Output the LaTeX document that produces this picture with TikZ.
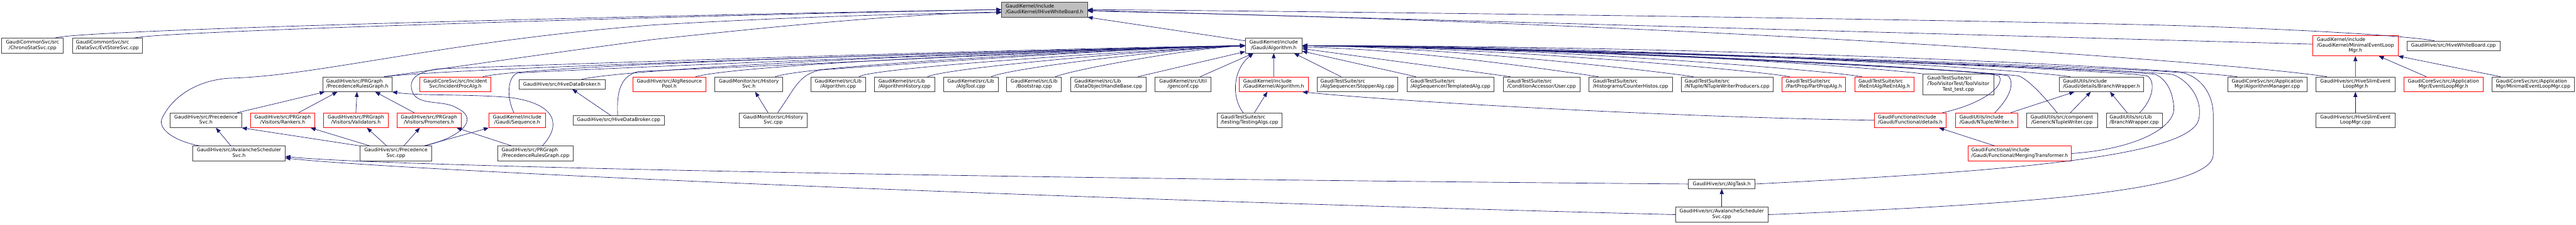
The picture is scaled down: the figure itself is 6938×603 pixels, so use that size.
\documentclass[tikz,border=0pt]{standalone}
\usepackage{fontspec}
\setmainfont{DejaVu Sans}
\usetikzlibrary{arrows.meta,calc}
\definecolor{edgeblue}{HTML}{191970}
\definecolor{boxline}{HTML}{404040}
\definecolor{focusfill}{HTML}{BFBFBF}
\newcommand{\twoln}[2]{\begin{tabular}{@{}l@{}}#1\\\multicolumn{1}{@{}c@{}}{#2}\end{tabular}}
\newcommand{\threeln}[3]{\begin{tabular}{@{}l@{}}#1\\#2\\\multicolumn{1}{@{}c@{}}{#3}\end{tabular}}

\begin{document}
\begin{tikzpicture}[x=0.4pt,y=-0.4pt,
    every node/.style={font=\fontsize{5.2}{5.84}\selectfont},
    filebox/.style={draw=boxline, fill=white, line width=0.5pt, inner sep=0pt, minimum height=15.84pt},
    truncbox/.style={filebox, draw=red},
    focusbox/.style={filebox, fill=focusfill},
    wd/.style={minimum width=#1*0.4pt},
    oneln/.style={minimum height=10.16pt},
    tall/.style={minimum height=22pt},
    incl/.style={draw=edgeblue, line width=0.45pt, -{Triangle[length=5.4pt,width=4.2pt]}}]
    \useasboundingbox[fill=white] (0,0) rectangle (6938,603);

    \node[focusbox, wd=231] (IHWB) at (2813.2,25.8) {\twoln{GaudiKernel/include}{/GaudiKernel/IHiveWhiteBoard.h}};

    \node[filebox, wd=166] (ChronoStat) at (87.7,122.7) {\twoln{GaudiCommonSvc/src}{/ChronoStatSvc.cpp}};
    \node[filebox, wd=189] (EvtStore) at (289.3,122.7) {\twoln{GaudiCommonSvc/src}{/DataSvc/EvtStoreSvc.cpp}};
    \node[filebox, wd=152.5] (GAlgH) at (3430.5,122.7) {\twoln{GaudiKernel/include}{/Gaudi/Algorithm.h}};
    \node[truncbox, tall, wd=229.6] (MinELMH) at (6343.8,122.7) {\threeln{GaudiKernel/include}{/GaudiKernel/MinimalEventLoop}{Mgr.h}};
    \node[filebox, oneln, wd=251] (HWBCpp) at (6608,122.7) {GaudiHive/src/HiveWhiteBoard.cpp};

    \node[filebox, wd=186.4] (PRGraphH) at (962.5,226.5) {\twoln{GaudiHive/src/PRGraph}{/PrecedenceRulesGraph.h}};
    \node[truncbox, wd=192.3] (IncProcAlg) at (1226.5,226.5) {\twoln{GaudiCoreSvc/src/Incident}{Svc/IncidentProcAlg.h}};
    \node[filebox, oneln, wd=232] (HDBH) at (1513.3,226.5) {GaudiHive/src/HiveDataBroker.h};
    \node[truncbox, wd=197.7] (AlgResPool) at (1802.7,226.5) {\twoln{GaudiHive/src/AlgResource}{Pool.h}};
    \node[filebox, wd=183] (HistSvcH) at (2017,226.5) {\twoln{GaudiMonitor/src/History}{Svc.h}};
    \node[filebox, wd=147] (AlgCpp) at (2257.4,226.5) {\twoln{GaudiKernel/src/Lib}{/Algorithm.cpp}};
    \node[filebox, wd=163] (AlgHistCpp) at (2436,226.5) {\twoln{GaudiKernel/src/Lib}{/AlgorithmHistory.cpp}};
    \node[filebox, wd=147] (AlgToolCpp) at (2614.7,226.5) {\twoln{GaudiKernel/src/Lib}{/AlgTool.cpp}};
    \node[filebox, wd=147.3] (BootCpp) at (2785.2,226.5) {\twoln{GaudiKernel/src/Lib}{/Bootstrap.cpp}};
    \node[filebox, wd=204] (DOHBCpp) at (2985,226.5) {\twoln{GaudiKernel/src/Lib}{/DataObjectHandleBase.cpp}};
    \node[filebox, wd=150.8] (GenconfCpp) at (3186.6,226.5) {\twoln{GaudiKernel/src/Util}{/genconf.cpp}};
    \node[truncbox, wd=185.8] (GKAlgH) at (3430.3,226.5) {\twoln{GaudiKernel/include}{/GaudiKernel/Algorithm.h}};
    \node[filebox, wd=217.7] (StopperCpp) at (3655.9,226.5) {\twoln{GaudiTestSuite/src}{/AlgSequencer/StopperAlg.cpp}};
    \node[filebox, wd=234.6] (TemplCpp) at (3906.5,226.5) {\twoln{GaudiTestSuite/src}{/AlgSequencer/TemplatedAlg.cpp}};
    \node[filebox, wd=207] (UserCpp) at (4151.8,226.5) {\twoln{GaudiTestSuite/src}{/ConditionAccessor/User.cpp}};
    \node[filebox, wd=224.6] (CntHistCpp) at (4391.6,226.5) {\twoln{GaudiTestSuite/src}{/Histograms/CounterHistos.cpp}};
    \node[filebox, wd=248.3] (NTWPCpp) at (4651.8,226.5) {\twoln{GaudiTestSuite/src}{/NTuple/NTupleWriterProducers.cpp}};
    \node[truncbox, wd=171] (PartPropH) at (4885.1,226.5) {\twoln{GaudiTestSuite/src}{/PartProp/PartPropAlg.h}};
    \node[truncbox, wd=159] (ReEntH) at (5074.6,226.5) {\twoln{GaudiTestSuite/src}{/ReEntAlg/ReEntAlg.h}};
    \node[filebox, tall, wd=192] (ToolVisCpp) at (5274.5,226.5) {\threeln{GaudiTestSuite/src}{/ToolVisitorTest/ToolVisitor}{Test\_test.cpp}};
    \node[filebox, wd=227] (BWH) at (5659.9,226.5) {\twoln{GaudiUtils/include}{/Gaudi/details/BranchWrapper.h}};
    \node[filebox, wd=213.5] (AlgMgrCpp) at (6106.6,226.5) {\twoln{GaudiCoreSvc/src/Application}{Mgr/AlgorithmManager.cpp}};
    \node[filebox, wd=213.8] (HSlimH) at (6343.9,226.5) {\twoln{GaudiHive/src/HiveSlimEvent}{LoopMgr.h}};
    \node[truncbox, wd=213.5] (ELMH) at (6581,226.5) {\twoln{GaudiCoreSvc/src/Application}{Mgr/EventLoopMgr.h}};
    \node[filebox, wd=220.3] (MinELMCpp) at (6822.5,226.5) {\twoln{GaudiCoreSvc/src/Application}{Mgr/MinimalEventLoopMgr.cpp}};

    \node[filebox, wd=192.3] (PrecSvcH) at (554.6,323.2) {\twoln{GaudiHive/src/Precedence}{Svc.h}};
    \node[truncbox, wd=173.4] (RankersH) at (761.2,323.2) {\twoln{GaudiHive/src/PRGraph}{/Visitors/Rankers.h}};
    \node[truncbox, wd=173.8] (ValidH) at (958.5,323.2) {\twoln{GaudiHive/src/PRGraph}{/Visitors/Validators.h}};
    \node[truncbox, wd=173.3] (PromotH) at (1155.6,323.2) {\twoln{GaudiHive/src/PRGraph}{/Visitors/Promoters.h}};
    \node[truncbox, wd=152.3] (SeqH) at (1393,323.2) {\twoln{GaudiKernel/include}{/Gaudi/Sequence.h}};
    \node[filebox, oneln, wd=246.7] (HDBCpp) at (1666.5,323.2) {GaudiHive/src/HiveDataBroker.cpp};
    \node[filebox, wd=183] (HistSvcCpp) at (2082.5,323.2) {\twoln{GaudiMonitor/src/History}{Svc.cpp}};
    \node[filebox, wd=176] (TestAlgsCpp) at (3365.4,323.2) {\twoln{GaudiTestSuite/src}{/testing/TestingAlgs.cpp}};
    \node[truncbox, wd=194] (DetailsH) at (5145,323.2) {\twoln{GaudiFunctional/include}{/Gaudi/Functional/details.h}};
    \node[truncbox, wd=166.8] (WriterH) at (5350.5,323.2) {\twoln{GaudiUtils/include}{/Gaudi/NTuple/Writer.h}};
    \node[filebox, wd=191] (GNTWCpp) at (5553.2,323.2) {\twoln{GaudiUtils/src/component}{/GenericNTupleWriter.cpp}};
    \node[filebox, wd=150.6] (BWCpp) at (5748,323.2) {\twoln{GaudiUtils/src/Lib}{/BranchWrapper.cpp}};
    \node[filebox, wd=213.8] (HSlimCpp) at (6343.9,323.2) {\twoln{GaudiHive/src/HiveSlimEvent}{LoopMgr.cpp}};

    \node[filebox, wd=248.2] (AvalH) at (643.8,412.5) {\twoln{GaudiHive/src/AvalancheScheduler}{Svc.h}};
    \node[filebox, wd=192.2] (PrecSvcCpp) at (1066.4,412.5) {\twoln{GaudiHive/src/Precedence}{Svc.cpp}};
    \node[filebox, wd=202.8] (PRGraphCpp) at (1442.4,412.5) {\twoln{GaudiHive/src/PRGraph}{/PrecedenceRulesGraph.cpp}};
    \node[truncbox, wd=278.6] (MergTH) at (5439.7,412.5) {\twoln{GaudiFunctional/include}{/Gaudi/Functional/MergingTransformer.h}};

    \node[filebox, oneln, wd=179.4] (AlgTaskH) at (4637.2,494.5) {GaudiHive/src/AlgTask.h};
    \node[filebox, wd=248.2] (AvalCpp) at (4637.2,576.8) {\twoln{GaudiHive/src/AvalancheScheduler}{Svc.cpp}};

    % IHiveWhiteBoard.h
    \draw[incl] ($(ChronoStat.north)+(60,0)$) .. controls +(60,-25) and +(-600,8) .. (IHWB.west);
    \draw[incl] ($(EvtStore.north)+(72,0)$) .. controls +(60,-20) and +(-600,10) .. (IHWB.west);
    \draw[incl] ($(AvalH.north west)+(20,0)$) .. controls (470,380) and (420,345) .. (438,315) .. controls (465,260) and (530,215) .. (620,210) .. controls (850,205) and (1200,110) .. (1760,67) .. controls (2200,42) and (2500,36) .. ($(IHWB.west)+(0,8)$);
    \draw[incl] ($(PRGraphH.north)+(72,0)$) .. controls (1300,170) and (1500,140) .. (1760,106) .. controls (2100,70) and (2400,40) .. ($(IHWB.west)+(0,6)$);
    \draw[incl] ($(GAlgH.west)+(0,-13)$) -- (IHWB.south east);
    \draw[incl] ($(HWBCpp.north)+(-52,0)$) .. controls (6450,92) and (6100,75) .. (5800,67) .. controls (5000,48) and (3500,30) .. (IHWB.east);
    \draw[incl] ($(MinELMH.west)+(0,-4)$) -- ($(IHWB.east)+(0,2)$);
    \draw[incl] ($(HSlimH.north)+(-77,0)$) .. controls (6000,165) and (4500,60) .. ($(IHWB.east)+(0,4)$);

    % Gaudi/Algorithm.h, left side
    \draw[incl] ($(PRGraphH.north)+(72,0)$) .. controls (1250,180) and (2800,135) .. (GAlgH.west);
    \draw[incl] ($(PrecSvcCpp.north east)+(-21,0)$) .. controls (1240,370) and (1295,320) .. (1230,290) .. controls (1195,268) and (1130,285) .. (1112,250) .. controls (1100,220) and (1110,195) .. (1180,185) .. controls (1700,165) and (2900,128) .. (GAlgH.west);
    \draw[incl] ($(IncProcAlg.north)+(74,0)$) .. controls +(100,-25) and +(-1100,25) .. (GAlgH.west);
    \draw[incl] ($(SeqH.north)+(-9,0)$) .. controls (1365,265) and (1365,205) .. (1395,196) .. controls (1800,175) and (2900,132) .. (GAlgH.west);
    \draw[incl] ($(HDBH.north)+(53,0)$) .. controls +(100,-25) and +(-900,22) .. (GAlgH.west);
    \draw[incl] ($(HDBCpp.north)+(-3,0)$) .. controls (1662,265) and (1662,205) .. (1720,192) .. controls (2200,172) and (3000,130) .. (GAlgH.west);
    \draw[incl] ($(AlgResPool.north)+(71,0)$) .. controls +(100,-28) and +(-700,20) .. (GAlgH.west);
    \draw[incl] ($(HistSvcH.north)+(71,0)$) .. controls +(80,-28) and +(-500,16) .. (GAlgH.west);
    \draw[incl] ($(HistSvcCpp.north)+(12,0)$) .. controls (2140,240) and (2150,200) .. (2210,188) .. controls (2600,160) and (3100,128) .. (GAlgH.west);
    \draw[incl] ($(AlgCpp.north)+(56,0)$) .. controls +(40,-25) and +(-300,14) .. (GAlgH.west);
    \draw[incl] ($(AlgHistCpp.north)+(62,0)$) .. controls +(60,-25) and +(-250,12) .. (GAlgH.west);
    \draw[incl] ($(AlgToolCpp.north)+(55,0)$) .. controls +(60,-25) and +(-200,10) .. (GAlgH.west);
    \draw[incl] ($(BootCpp.north)+(57,0)$) .. controls +(60,-22) and +(-150,8) .. (GAlgH.west);
    \draw[incl] ($(DOHBCpp.north)+(80,0)$) -- ($(GAlgH.west)+(0,16)$);
    \draw[incl] ($(GenconfCpp.north)+(46,0)$) -- ($(GAlgH.south west)+(22,0)$);
    \draw[incl] (GKAlgH) -- (GAlgH);
    \draw[incl] ($(TestAlgsCpp.north)+(-17,0)$) .. controls (3318,265) and (3318,190) .. ($(GAlgH.south west)+(22,0)$);
    \draw[incl] ($(TestAlgsCpp.north)+(13,0)$) -- ($(GKAlgH.south)+(-17,0)$);

    % Gaudi/Algorithm.h, right side
    \draw[incl] ($(StopperCpp.north)+(-44,0)$) -- ($(GAlgH.south east)+(-22,0)$);
    \draw[incl] ($(TemplCpp.north)+(-93,0)$) -- ($(GAlgH.east)+(0,15)$);
    \draw[incl] ($(UserCpp.north)+(-84,0)$) -- ($(GAlgH.east)+(0,8)$);
    \draw[incl] ($(CntHistCpp.north)+(-87,0)$) .. controls +(-80,-12) and +(300,5) .. ($(GAlgH.east)+(0,4)$);
    \draw[incl] ($(NTWPCpp.north)+(-91,0)$) .. controls +(-100,-15) and +(400,4) .. (GAlgH.east);
    \draw[incl] ($(PartPropH.north)+(-65,0)$) .. controls +(-100,-18) and +(500,3) .. (GAlgH.east);
    \draw[incl] ($(ReEntH.north)+(-60,0)$) .. controls +(-120,-20) and +(600,2) .. (GAlgH.east);
    \draw[incl] (ToolVisCpp.north west) .. controls +(-150,-20) and +(700,0) .. (GAlgH.east);
    \draw[incl] ($(BWH.north)+(-84,0)$) .. controls +(-150,-22) and +(900,0) .. (GAlgH.east);
    \draw[incl] ($(AlgMgrCpp.north)+(-81,0)$) .. controls +(-150,-20) and +(1200,0) .. (GAlgH.east);
    \draw[incl] ($(DetailsH.north east)+(-11,0)$) .. controls (5330,282) and (5400,235) .. (5385,205) .. controls (5380,188) and (4300,130) .. (GAlgH.east);
    \draw[incl] ($(WriterH.north)+(22,0)$) .. controls (5415,260) and (5425,225) .. (5410,205) .. controls (5400,190) and (4300,132) .. (GAlgH.east);
    \draw[incl] ($(GNTWCpp.north)+(-13,0)$) .. controls (5510,265) and (5470,220) .. (5440,205) .. controls (5420,195) and (4300,132) .. (GAlgH.east);
    \draw[incl] ($(BWCpp.north)+(15,0)$) .. controls (5800,265) and (5805,220) .. (5785,205) .. controls (5770,192) and (4500,135) .. (GAlgH.east);
    \draw[incl] (MergTH.east) .. controls (5760,400) and (5858,340) .. (5855,290) .. controls (5852,240) and (5830,210) .. (5805,200) .. controls (5780,192) and (4500,135) .. (GAlgH.east);
    \draw[incl] (AlgTaskH.east) .. controls (5300,465) and (5900,430) .. (5922,320) .. controls (5935,255) and (5880,208) .. (5850,200) .. controls (5800,190) and (4500,135) .. (GAlgH.east);
    \draw[incl] (AvalCpp.east) .. controls (5500,548) and (5961,510) .. (5961,415) -- (5961,310) .. controls (5961,245) and (5920,205) .. (5880,196) .. controls (5820,186) and (4500,135) .. (GAlgH.east);

    % event loop managers
    \draw[incl] (HSlimH) -- (MinELMH);
    \draw[incl] (HSlimCpp) -- (HSlimH);
    \draw[incl] ($(ELMH.north)+(-46,0)$) -- ($(MinELMH.south)+(63,0)$);
    \draw[incl] ($(MinELMCpp.north)+(-88,0)$) -- (MinELMH.south east);

    % ntuple and functional headers
    \draw[incl] ($(WriterH.north)+(65,0)$) -- ($(BWH.south)+(-73,0)$);
    \draw[incl] ($(GNTWCpp.north)+(23,0)$) -- ($(BWH.south)+(-29,0)$);
    \draw[incl] ($(BWCpp.north)+(-19,0)$) -- ($(BWH.south)+(23,0)$);
    \draw[incl] ($(MergTH.north)+(-67,0)$) -- ($(DetailsH.south east)+(-20,0)$);
    \draw[incl] (DetailsH.west) .. controls (4500,315) and (3750,272) .. ($(GKAlgH.south east)+(-16,0)$);

    % hive scheduler and precedence graph
    \draw[incl] ($(PrecSvcH.north east)+(-12,0)$) -- ($(PRGraphH.south west)+(6,0)$);
    \draw[incl] ($(RankersH.north)+(43,0)$) -- ($(PRGraphH.south west)+(40,0)$);
    \draw[incl] (ValidH.north) -- ($(PRGraphH.south)+(-1,0)$);
    \draw[incl] ($(PromotH.north)+(-40,0)$) -- ($(PRGraphH.south)+(48,0)$);
    \draw[incl] ($(PRGraphCpp.north)+(18,0)$) .. controls (1510,340) and (1505,280) .. (1374,262) .. controls (1250,252) and (1130,258) .. (PRGraphH.south east);
    \draw[incl] ($(PRGraphCpp.north)+(-64,0)$) -- ($(PromotH.south east)+(-13,0)$);
    \draw[incl] (PrecSvcCpp.north west) -- (PrecSvcH.south east);
    \draw[incl] ($(PrecSvcCpp.north west)+(27,0)$) -- ($(RankersH.south east)+(-12,0)$);
    \draw[incl] ($(PrecSvcCpp.north)+(-25,0)$) -- ($(ValidH.south)+(30,0)$);
    \draw[incl] ($(PrecSvcCpp.north)+(21,0)$) -- ($(PromotH.south)+(-25,0)$);
    \draw[incl] ($(PrecSvcCpp.north east)+(-21,0)$) -- (SeqH.south west);
    \draw[incl] ($(AvalH.north)+(-22,0)$) -- ($(PrecSvcH.south)+(27,0)$);
    \draw[incl] (AlgTaskH.west) .. controls (2500,478) and (1000,445) .. ($(AvalH.east)+(0,8)$);
    \draw[incl] (AvalCpp.west) .. controls (2500,525) and (1000,452) .. ($(AvalH.east)+(0,12)$);
    \draw[incl] (AvalCpp) -- (AlgTaskH);
    \draw[incl] ($(HDBCpp.north)+(-22,0)$) -- ($(HDBH.south)+(28,0)$);
    \draw[incl] ($(HistSvcCpp.north)+(-14,0)$) -- ($(HistSvcH.south)+(17,0)$);
\end{tikzpicture}
\end{document}
